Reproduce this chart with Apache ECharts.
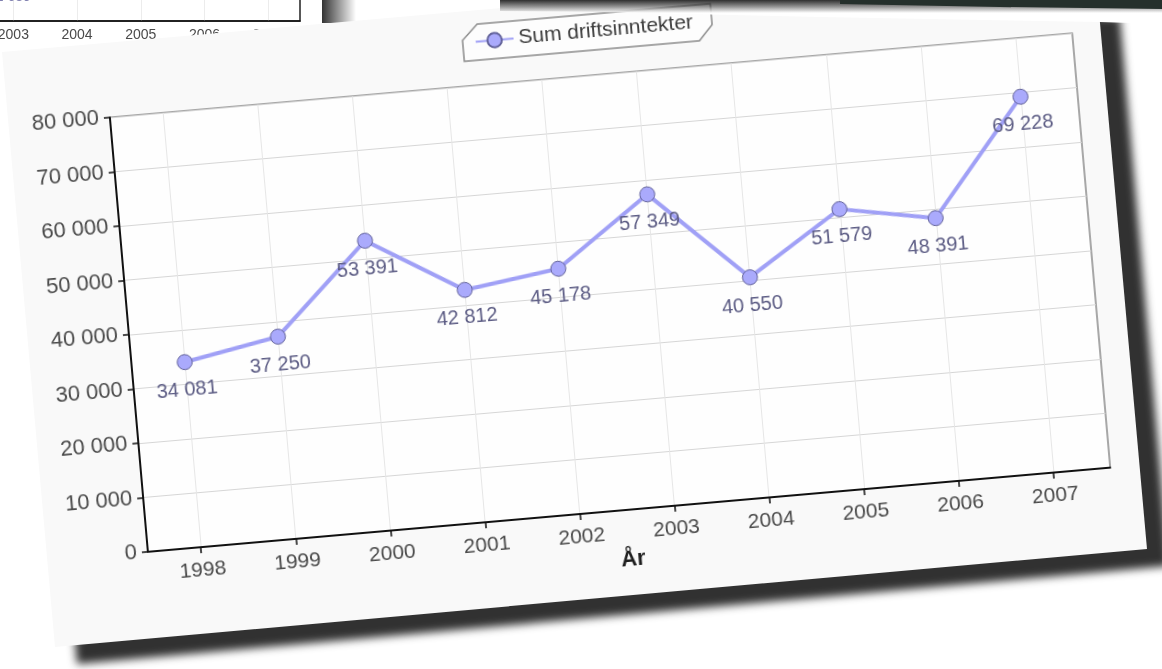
<!DOCTYPE html>
<html>
<head>
<meta charset="utf-8">
<title>Sum driftsinntekter</title>
<script src="https://cdn.jsdelivr.net/npm/echarts@6/dist/echarts.min.js"></script>
<style>
  html, body { margin: 0; padding: 0; width: 1162px; height: 669px; overflow: hidden; background: #ffffff; }
  #stage { position: relative; width: 1162px; height: 669px; overflow: hidden; background: #ffffff; }
  .abs { position: absolute; }
  /* second sheet peeking out at the top left */
  #sheet2 { left: 0; top: 0; width: 322px; height: 60px; background: #ffffff; overflow: hidden; }
  #chart2 { position: absolute; left: -350px; top: -300px; width: 700px; height: 360px; }
  #sheet2Shadow { left: 322px; top: 0; width: 34px; height: 23px;
    background: linear-gradient(90deg, rgba(40,40,40,0.95), rgba(40,40,40,0)); }
  /* main sheet with its drop shadow */
  #panelWrap { left: 0; top: 0; width: 1162px; height: 669px;
    filter: drop-shadow(22px 17px 4px rgba(38,38,38,0.95)); }
  #panel { position: absolute; left: 0; top: 0; width: 1162px; height: 669px; background: #f9f9f9;
    clip-path: polygon(2px 52px, 1094px -44px, 1147px 549px, 55px 647px); }
  #chart { position: absolute; left: -50px; top: 10.5px; width: 1200px; height: 720px;
    transform-origin: 0 0; transform: rotate(-5deg); }
  /* layers lying over the top edge */
  #topBand { left: 0; top: 0; width: 1162px; height: 40px;
    background: linear-gradient(180deg, rgba(36,36,36,0.95) 0px, rgba(60,60,60,0.6) 6px, rgba(255,255,255,1) 13px, #ffffff 40px);
    clip-path: polygon(500px 0, 1162px 0, 1162px 24px, 1100px 22px, 820px 17px, 600px 12px, 500px 11px); }
  #photo { left: 0; top: 0; width: 1162px; height: 14px; background: #25302c;
    clip-path: polygon(840px 0, 1162px 0, 1162px 9px, 1000px 7px, 840px 4px); }
</style>
</head>
<body>
<div id="stage">
  <div id="sheet2" class="abs"><div id="chart2"></div></div>
  <div id="sheet2Shadow" class="abs"></div>
  <div id="panelWrap" class="abs">
    <div id="panel"><div id="chart"></div></div>
  </div>
  <div id="topBand" class="abs"></div>
  <div id="photo" class="abs"></div>
</div>
<script>
// Operating income per year
const years = [1998, 1999, 2000, 2001, 2002, 2003, 2004, 2005, 2006, 2007];
const driftsinntekter = [34081, 37250, 53391, 42812, 45178, 57349, 40550, 51579, 48391, 69228];
const seriesName = 'Sum driftsinntekter';
const axisNameX = 'År';
const xMin = 1997.44;
const xMax = 2007.6;
const yMin = 0;
const yMax = 80000;
const yStep = 10000;

// Sheet behind: only one labelled point reaches into view
const years2 = ['1998', '1999', '2000', '2001', '2002', '2003', '2004', '2005', '2006', '2007'];
const values2 = [null, null, null, null, null, 1639, null, null, null, null];
const yMax2 = 13000;

const FONT = '"Liberation Sans", Arial, Helvetica, sans-serif';
const spaced = v => String(v).replace(/\B(?=(\d{3})+(?!\d))/g, ' ');

const points = years.map((y, i) => [y, driftsinntekter[i]]);

const chart = echarts.init(document.getElementById('chart'), null, { renderer: 'canvas' });
chart.setOption({
  animation: false,
  textStyle: { fontFamily: FONT },
  grid: {
    left: 150, top: 120, width: 966, height: 436,
    outerBoundsMode: 'none',
    show: true, backgroundColor: '#fefefe', borderColor: '#8c8c8c', borderWidth: 1.5
  },
  legend: {
    data: [seriesName],
    left: 520, top: 66, padding: 0,
    itemWidth: 38, itemHeight: 18, itemGap: 10,
    textStyle: { fontSize: 21, color: '#3c3c3c', fontFamily: FONT },
    z: 6
  },
  graphic: [{
    type: 'polygon', z: 3,
    shape: { points: [[524, 59], [758, 59], [758, 80], [744, 95], [508, 95], [508, 74]] },
    style: { fill: '#fdfdfd', stroke: '#8a8a8a', lineWidth: 1.5 }
  }],
  xAxis: {
    type: 'value',
    min: xMin, max: xMax,
    name: axisNameX,
    nameLocation: 'middle',
    nameGap: 39,
    nameTextStyle: { fontSize: 22, fontWeight: 'bold', color: '#1e1e1e', fontFamily: FONT },
    axisLine: { lineStyle: { color: '#111', width: 2 } },
    axisTick: { customValues: years, length: 6, lineStyle: { color: '#111', width: 1.5 } },
    axisLabel: { customValues: years, fontSize: 21, color: '#4a4a4a', margin: 13, fontFamily: FONT,
      formatter: v => String(Math.round(v)) },
    splitLine: { show: true, lineStyle: { color: '#e6e6e6', width: 1 } }
  },
  yAxis: {
    type: 'value',
    min: yMin, max: yMax, interval: yStep,
    axisLine: { show: true, lineStyle: { color: '#111', width: 2 } },
    axisTick: { show: true, length: 6, lineStyle: { color: '#111', width: 1.5 } },
    axisLabel: { fontSize: 22, color: '#4a4a4a', margin: 11, formatter: spaced, fontFamily: FONT },
    splitLine: { show: true, lineStyle: { color: '#d6d6d6', width: 1 } }
  },
  series: [{
    name: seriesName,
    type: 'line',
    data: points,
    symbol: 'circle',
    symbolSize: 15,
    lineStyle: { color: '#a0a0f6', width: 4 },
    itemStyle: { color: '#aaaafc', borderColor: '#62629a', borderWidth: 1 },
    label: {
      show: true, position: 'bottom', distance: 10,
      fontSize: 20, color: '#5c5c84', fontFamily: FONT,
      formatter: p => spaced(p.value[1])
    },
    z: 4
  }]
});

const chart2 = echarts.init(document.getElementById('chart2'), null, { renderer: 'canvas' });
chart2.setOption({
  animation: false,
  grid: {
    left: 13, top: 0, width: 637, height: 321,
    outerBoundsMode: 'none',
    show: true, backgroundColor: '#ffffff', borderColor: '#222', borderWidth: 1.5
  },
  xAxis: {
    type: 'category', data: years2, boundaryGap: true,
    axisLine: { lineStyle: { color: '#111', width: 1.5 } },
    axisTick: { alignWithLabel: true, length: 5, lineStyle: { color: '#111', width: 1.5 } },
    axisLabel: { fontSize: 14, color: '#4a4a4a', margin: 7, fontFamily: FONT },
    splitLine: { show: true, alignWithLabel: true, lineStyle: { color: '#ececec' } }
  },
  yAxis: { type: 'value', min: 0, max: yMax2, show: false, splitLine: { show: false } },
  series: [{
    type: 'line', data: values2, symbol: 'circle', symbolSize: 9,
    itemStyle: { color: '#aaaafc' },
    label: { show: true, position: 'bottom', fontSize: 14, color: '#8080b0', fontFamily: FONT,
      formatter: p => spaced(p.value) }
  }]
});
</script>
</body>
</html>
